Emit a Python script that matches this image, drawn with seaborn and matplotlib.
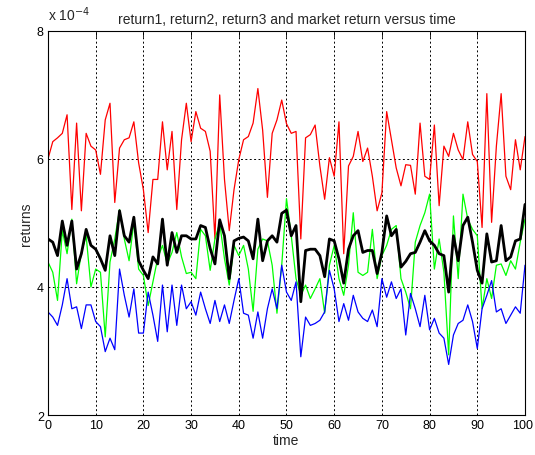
import matplotlib as mpl
mpl.use("Agg")
import numpy as np
import pandas as pd
import matplotlib.pyplot as plt
import matplotlib.transforms as mtransforms
import seaborn as sns

# values, in units of 1e-4
time = list(range(0, 101))

return1 = [6.00, 6.27, 6.33, 6.40, 6.69, 5.21, 6.56, 5.19, 6.40, 6.20,
           6.14, 5.76, 6.61, 6.87, 5.32, 6.17, 6.30, 6.33, 6.58, 5.94,
           5.52, 4.85, 5.68, 5.68, 6.58, 5.83, 6.43, 5.21, 6.30, 6.87,
           6.27, 6.74, 6.48, 6.43, 6.12, 4.75, 7.00, 5.68, 4.88, 5.52,
           5.99, 6.30, 6.35, 6.56, 7.10, 6.45, 5.40, 6.40, 6.61, 6.92,
           6.55, 6.40, 6.43, 4.75, 6.33, 6.38, 6.53, 5.89, 5.37, 6.02,
           5.73, 6.58, 4.52, 5.89, 6.04, 6.43, 5.96, 6.17, 5.73, 5.19,
           5.47, 6.74, 6.30, 5.86, 5.58, 5.91, 5.90, 5.45, 6.56, 5.73,
           5.68, 6.53, 5.27, 6.20, 6.04, 6.40, 6.14, 5.99, 6.58, 6.07,
           5.96, 4.93, 7.02, 5.01, 6.20, 7.02, 5.73, 5.52, 6.30, 5.83,
           6.35]

return2 = [4.39, 4.23, 3.79, 4.88, 4.52, 5.06, 4.05, 4.54, 4.80, 4.00,
           4.28, 4.23, 3.22, 4.39, 4.75, 5.21, 4.75, 4.41, 5.01, 4.28,
           4.18, 3.71, 4.08, 4.45, 4.65, 4.36, 4.54, 4.85, 4.47, 4.21,
           4.23, 4.13, 4.90, 4.80, 4.26, 4.75, 5.00, 4.44, 4.03, 4.65,
           4.49, 4.65, 4.28, 3.62, 4.59, 4.75, 4.72, 4.34, 3.59, 4.34,
           5.38, 4.80, 4.13, 3.87, 4.03, 3.82, 3.97, 4.13, 3.59, 4.34,
           4.65, 4.13, 3.87, 4.34, 5.16, 4.23, 4.18, 4.23, 4.90, 4.13,
           4.49, 4.65, 4.90, 4.96, 4.13, 3.92, 3.66, 4.70, 4.96, 5.16,
           5.45, 4.28, 4.75, 4.23, 2.94, 5.11, 4.13, 5.45, 5.06, 4.90,
           4.80, 3.66, 4.13, 3.82, 4.34, 4.36, 4.18, 4.41, 4.28, 4.70,
           5.06]

return3 = [3.61, 3.53, 3.40, 3.72, 4.13, 3.66, 3.69, 3.35, 3.72, 3.72,
           3.46, 3.38, 2.99, 3.20, 3.02, 4.28, 3.87, 3.53, 3.97, 3.28,
           3.28, 3.92, 3.56, 3.15, 4.03, 3.30, 4.03, 3.40, 4.03, 3.66,
           3.77, 3.56, 3.92, 3.66, 3.43, 3.79, 3.46, 3.72, 3.43, 3.79,
           4.13, 3.59, 3.56, 3.20, 3.61, 3.20, 3.66, 3.97, 3.66, 4.34,
           3.92, 3.79, 4.08, 2.91, 3.53, 3.40, 3.43, 3.48, 3.61, 4.26,
           3.97, 3.46, 3.74, 3.48, 3.87, 3.61, 3.51, 3.46, 3.64, 3.38,
           4.13, 3.84, 4.08, 3.82, 3.97, 3.25, 3.90, 3.66, 3.38, 3.87,
           3.33, 3.51, 3.28, 3.20, 2.79, 3.25, 3.43, 3.48, 3.72, 3.46,
           3.04, 3.66, 3.87, 4.10, 3.61, 3.66, 3.43, 3.56, 3.69, 3.59,
           4.34]

market = [4.75, 4.70, 4.49, 5.03, 4.65, 5.03, 4.28, 4.52, 4.90, 4.65,
          4.59, 4.44, 4.26, 4.80, 4.49, 5.19, 4.80, 4.70, 5.09, 4.41,
          4.26, 4.13, 4.47, 4.36, 5.06, 4.34, 4.85, 4.54, 4.80, 4.80,
          4.75, 4.75, 4.96, 4.93, 4.60, 4.36, 5.05, 4.80, 4.13, 4.72,
          4.76, 4.78, 4.72, 4.44, 5.06, 4.41, 4.72, 4.80, 4.70, 5.15,
          5.20, 4.80, 4.96, 3.77, 4.57, 4.59, 4.59, 4.49, 4.16, 4.75,
          4.72, 4.44, 4.06, 4.59, 4.80, 4.88, 4.54, 4.57, 4.57, 4.21,
          4.54, 5.11, 4.80, 4.90, 4.31, 4.40, 4.52, 4.54, 4.70, 4.88,
          4.72, 4.65, 4.52, 4.49, 3.92, 4.80, 4.41, 4.96, 5.09, 4.70,
          4.26, 4.06, 4.83, 4.39, 4.41, 4.96, 4.41, 4.47, 4.72, 4.75,
          5.29]

x_ticks = list(range(0, 101, 10))
y_ticks = [2, 4, 6, 8]

sns.set_style("white")
plt.rcParams['font.family'] = ['Liberation Sans', 'DejaVu Sans']
plt.rcParams['font.size'] = 10

fig = plt.figure(figsize=(5.35, 4.56), dpi=100)
ax = fig.add_axes([0.0897, 0.0877, 0.8916, 0.8423])

sns.lineplot(x=time, y=return1, color='#ff0000', linewidth=0.9, ax=ax)
sns.lineplot(x=time, y=return2, color='#00ff00', linewidth=0.9, ax=ax)
sns.lineplot(x=time, y=return3, color='#0000ff', linewidth=0.9, ax=ax)
sns.lineplot(x=time, y=market, color='black', linewidth=2.0, ax=ax)

ax.set_xlim(0, 100)
ax.set_ylim(2, 8)
ax.set_xticks(x_ticks)
ax.set_yticks(y_ticks)
ax.grid(True, color='black', linestyle=(0, (2, 2.5)), linewidth=0.7)
ax.set_axisbelow(True)
for s in ax.spines.values():
    s.set_color('black')
    s.set_linewidth(0.8)
ax.tick_params(direction='in', length=4, width=0.6, top=True, right=True,
               labelsize=9, pad=3, colors='black')

# last x label sits on the figure edge, nudge it left so it is not clipped
last = ax.get_xticklabels()[-1]
last.set_transform(last.get_transform() +
                   mtransforms.ScaledTranslation(-2 / 72, 0, fig.dpi_scale_trans))

ax.set_xlabel('time', fontsize=10, labelpad=1)
ax.set_ylabel('returns', fontsize=10, labelpad=3)
ax.set_title('return1, return2, return3 and market return versus time',
             fontsize=10, pad=6)
ax.text(0.0, 1.02, r'x 10$^{-4}$', transform=ax.transAxes,
        ha='left', va='bottom', fontsize=10)

fig.savefig('out.png', dpi=100)
plt.close()
